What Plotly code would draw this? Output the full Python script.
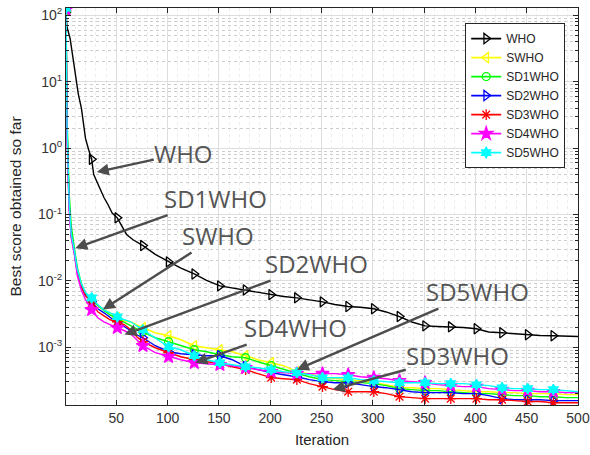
import math
import plotly.graph_objects as go

# ---------------- data ----------------
who_iter = [1, 2, 5, 9, 13, 16, 20, 23, 26, 28, 33, 38, 42, 46, 51, 56, 60, 66, 70, 76, 88,
            101, 113, 126, 138, 151, 163, 176, 188, 201, 213, 226, 238, 251, 263, 276, 288,
            301, 313, 326, 338, 351, 363, 376, 388, 401, 413, 426, 438, 451, 463, 476, 488, 500]
who_val = [110, 66, 45, 16.6, 6.5, 4.0, 1.4, 0.95, 0.68, 0.40, 0.26, 0.18, 0.14, 0.105, 0.089,
           0.064, 0.050, 0.042, 0.039, 0.034, 0.025, 0.0193, 0.0155, 0.0127, 0.0102, 0.0084,
           0.0078, 0.0073, 0.0066, 0.0062, 0.0058, 0.00555, 0.0052, 0.00483, 0.0044, 0.0041,
           0.0040, 0.0038, 0.0034, 0.0029, 0.0024, 0.0021, 0.00205, 0.00203, 0.00198, 0.0019,
           0.0017, 0.00165, 0.0016, 0.00154, 0.0015, 0.00149, 0.00147, 0.00145]

iters = [1, 2, 4, 6, 9, 12, 16, 20, 26, 32, 38, 44, 51, 58, 64, 70, 76, 88, 101, 113, 126, 138,
         151, 163, 176, 188, 201, 213, 226, 238, 251, 263, 276, 288, 301, 313, 326, 338, 351,
         363, 376, 388, 401, 413, 426, 438, 451, 463, 476, 488, 500]

swho = [120, 2.5, 0.17, 0.055, 0.029, 0.015, 0.0088, 0.0064,
        0.00518, 0.004208, 0.003664, 0.003302, 0.002778, 0.002504, 0.002419, 0.00218, 0.001965,
        0.001652, 0.001489, 0.001297, 0.001053, 0.000983, 0.000917, 0.000856, 0.000745, 0.000649,
        0.000585, 0.000527, 0.000428, 0.0004, 0.000348, 0.000336, 0.000325, 0.000313, 0.000292,
        0.000273, 0.000246, 0.000246, 0.000238, 0.000238, 0.00023, 0.000222, 0.000214, 0.000214,
        0.000207, 0.000207, 0.0002, 0.0002, 0.0002, 0.000193, 0.000193]
sd1who = [115, 3.0, 0.22, 0.07, 0.032, 0.016, 0.009, 0.0065,
          0.00518, 0.004208, 0.003539, 0.003081, 0.002683, 0.002336, 0.002106, 0.001898, 0.001711,
          0.00139, 0.00121, 0.001053, 0.000917, 0.000856, 0.000771, 0.00072, 0.000695, 0.000605,
          0.000527, 0.000459, 0.0004, 0.00036, 0.000325, 0.000313, 0.000303, 0.000292, 0.000283,
          0.000264, 0.000238, 0.00023, 0.000222, 0.000222, 0.000214, 0.000207, 0.0002, 0.0002,
          0.000193, 0.000187, 0.000187, 0.00018, 0.00018, 0.000174, 0.000174]
sd2who = [125, 2.0, 0.15, 0.05, 0.028, 0.014, 0.0082, 0.0061,
          0.004833, 0.003792, 0.003302, 0.002778, 0.002336, 0.002034, 0.001771, 0.001542, 0.00139,
          0.001053, 0.000856, 0.000799, 0.000771, 0.000745, 0.000745, 0.000649, 0.000509, 0.000459,
          0.000414, 0.000386, 0.00036, 0.000325, 0.000303, 0.000292, 0.000292, 0.000273, 0.000255,
          0.000246, 0.00023, 0.000214, 0.000207, 0.000207, 0.000207, 0.0002, 0.0002, 0.000187,
          0.000168, 0.000162, 0.000162, 0.000162, 0.000157, 0.000157, 0.000157]
sd3who = [118, 1.8, 0.14, 0.048, 0.027, 0.0135, 0.008, 0.0060,
          0.004669, 0.003418, 0.002977, 0.002592, 0.002419, 0.00218, 0.001833, 0.001439, 0.00121,
          0.000983, 0.000827, 0.00072, 0.000649, 0.000605, 0.000565, 0.000509, 0.000459, 0.0004,
          0.000348, 0.000336, 0.000325, 0.000283, 0.000255, 0.00023, 0.000214, 0.000214, 0.000214,
          0.0002, 0.00018, 0.000174, 0.000168, 0.000168, 0.000168, 0.000168, 0.000168, 0.000162,
          0.000162, 0.000157, 0.000152, 0.000152, 0.000146, 0.000146, 0.000146]
sd4who = [122, 1.5, 0.12, 0.045, 0.026, 0.012, 0.0072, 0.0052,
          0.003664, 0.002778, 0.002419, 0.00218, 0.001965, 0.001771, 0.001596, 0.001297, 0.001053,
          0.000827, 0.00072, 0.000649, 0.000585, 0.000565, 0.000546, 0.000527, 0.000492, 0.000459,
          0.000428, 0.000414, 0.0004, 0.0004, 0.0004, 0.0004, 0.000386, 0.00036, 0.000348,
          0.000336, 0.000313, 0.000303, 0.000292, 0.000273, 0.000264, 0.000255, 0.000255, 0.000238,
          0.00023, 0.000222, 0.000222, 0.000214, 0.000214, 0.000207, 0.000207]
sd5who = [128, 2.2, 0.16, 0.052, 0.029, 0.015, 0.0090, 0.0066,
          0.005553, 0.004356, 0.003664, 0.003302, 0.002875, 0.002592, 0.002419, 0.002106, 0.001833,
          0.00139, 0.001017, 0.000917, 0.000745, 0.000649, 0.000585, 0.000546, 0.000509, 0.000492,
          0.000459, 0.000428, 0.000414, 0.000386, 0.000348, 0.000348, 0.000348, 0.000325, 0.000313,
          0.000303, 0.000292, 0.000292, 0.000292, 0.000283, 0.000283, 0.000283, 0.000273, 0.000264,
          0.000246, 0.000238, 0.000238, 0.00023, 0.00023, 0.000222, 0.000214]

marker_iters = [1, 26, 51, 76, 101, 126, 151, 176, 201, 226, 251, 276, 301, 326, 351, 376,
                401, 426, 451, 476]

x_ticks = [50, 100, 150, 200, 250, 300, 350, 400, 450, 500]
y_decades = [-3, -2, -1, 0, 1, 2]

# label, arrow tip (iteration, value), text offset from tip in pixels (dx, dy)
callouts = [
    ("WHO", 31, 0.435, 87, -19),
    ("SD1WHO", 10, 0.031, 140, -50),
    ("SWHO", 37, 0.0037, 115, -74),
    ("SD2WHO", 58, 0.00155, 192, -71),
    ("SD4WHO", 127, 0.000585, 100, -35),
    ("SD5WHO", 226, 0.00046, 181, -78),
    ("SD3WHO", 261, 0.00023, 125, -34),
]

series = [
    ("WHO", who_iter, who_val, "#000000", "triangle-right-open", 9),
    ("SWHO", iters, swho, "#ffff00", "triangle-left-open", 9),
    ("SD1WHO", iters, sd1who, "#00ff00", "circle-open", 8),
    ("SD2WHO", iters, sd2who, "#0000ff", "triangle-right-open", 9),
    ("SD3WHO", iters, sd3who, "#ff0000", "asterisk-open", 9),
    ("SD4WHO", iters, sd4who, "#ff00ff", "star", 10),
    ("SD5WHO", iters, sd5who, "#00ffff", "hexagram", 8),
]

fig = go.Figure()
for name, xs, ys, color, symbol, msize in series:
    fig.add_trace(go.Scatter(x=xs, y=ys, mode="lines", line=dict(color=color, width=1.4),
                             showlegend=False, hoverinfo="skip"))
    mx = [x for x in xs if x in marker_iters]
    my = [y for x, y in zip(xs, ys) if x in marker_iters]
    fig.add_trace(go.Scatter(x=mx, y=my, mode="markers",
                             marker=dict(symbol=symbol, size=msize, color=color,
                                         line=dict(color=color, width=1.3)),
                             showlegend=False, hoverinfo="skip"))
    fig.add_trace(go.Scatter(x=[None], y=[None], mode="lines+markers", name=name,
                             line=dict(color=color, width=1.6),
                             marker=dict(symbol=symbol, size=msize, color=color,
                                         line=dict(color=color, width=1.3))))

annotations = []
for label, ix, val, dx, dy in callouts:
    annotations.append(dict(
        x=ix, y=math.log10(val), xref="x", yref="y", text=label, showarrow=True,
        ax=dx, ay=dy, arrowhead=2, arrowsize=1.0, arrowwidth=2.4, arrowcolor="#4d4d4d",
        font=dict(family="Open Sans", size=24, color="#555555"), borderpad=0))

grid_major = "#dedede"
grid_minor = "#cccccc"
axis_col = "#262626"

minor_y = [m * 10.0 ** e for e in range(-4, 3) for m in range(2, 10)]

fig.update_layout(
    width=590, height=455,
    margin=dict(l=66, r=12, t=8, b=50),
    paper_bgcolor="white", plot_bgcolor="white",
    font=dict(family="Liberation Sans", size=14, color=axis_col),
    annotations=annotations,
    legend=dict(x=0.975, y=0.962, xanchor="right", yanchor="top",
                bgcolor="white", bordercolor=axis_col, borderwidth=1,
                font=dict(family="Liberation Sans", size=12, color=axis_col),
                tracegroupgap=0),
    xaxis=dict(
        range=[1, 500], tickmode="array", tickvals=x_ticks,
        ticktext=[str(t) for t in x_ticks], automargin=False,
        ticks="inside", ticklen=5, tickcolor=axis_col,
        showline=True, linecolor=axis_col, linewidth=1, mirror="allticks",
        showgrid=True, gridcolor=grid_major, gridwidth=1, zeroline=False,
        minor=dict(dtick=10, showgrid=True, gridcolor="#ececec", griddash="dot", ticks=""),
        title=dict(text="Iteration", font=dict(size=15, color=axis_col), standoff=9),
        tickfont=dict(size=14, color="#333333"),
    ),
    yaxis=dict(
        type="log", range=[-3.87, 2.11], tickmode="array",
        tickvals=[10.0 ** d for d in y_decades],
        ticktext=["10<sup>%d</sup>" % d for d in y_decades], automargin=False,
        ticks="inside", ticklen=5, tickcolor=axis_col,
        showline=True, linecolor=axis_col, linewidth=1, mirror="allticks",
        showgrid=True, gridcolor=grid_major, gridwidth=1, zeroline=False,
        minor=dict(tickmode="array", tickvals=minor_y, ticks="inside", ticklen=3,
                   tickcolor=axis_col, showgrid=True, gridcolor=grid_minor, griddash="dot"),
        title=dict(text="Best score obtained so far", font=dict(size=15.5, color=axis_col),
                   standoff=12),
        tickfont=dict(size=14, color="#333333"),
    ),
)

fig.write_html("out.html")
